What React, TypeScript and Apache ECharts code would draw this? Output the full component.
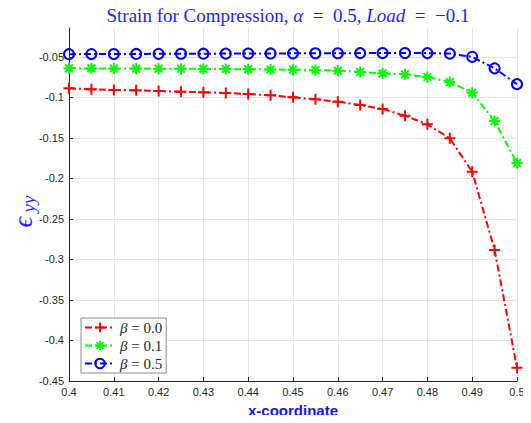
import React, { useEffect, useRef } from "react";
import * as echarts from "echarts";

const xValues = [0.4, 0.405, 0.41, 0.415, 0.42, 0.425, 0.43, 0.435, 0.44, 0.445, 0.45, 0.455, 0.46, 0.465, 0.47, 0.475, 0.48, 0.485, 0.49, 0.495, 0.5];
const seriesNames = ["β = 0.0", "β = 0.1", "β = 0.5"];
const beta00 = [-0.0887, -0.0899, -0.0907, -0.0911, -0.092, -0.0928, -0.0936, -0.0944, -0.0957, -0.0973, -0.0998, -0.1023, -0.1052, -0.1093, -0.1142, -0.1225, -0.1331, -0.1504, -0.1916, -0.2883, -0.4336];
const beta01 = [-0.064, -0.0641, -0.0642, -0.0643, -0.0644, -0.0645, -0.0647, -0.0649, -0.0651, -0.0654, -0.0657, -0.0661, -0.0669, -0.0685, -0.0702, -0.0714, -0.0747, -0.0809, -0.0941, -0.129, -0.181];
const beta05 = [-0.0465, -0.0464, -0.0463, -0.0462, -0.0461, -0.046, -0.0459, -0.0458, -0.0457, -0.0456, -0.0455, -0.0454, -0.0453, -0.0452, -0.0451, -0.045, -0.0452, -0.0458, -0.0498, -0.064, -0.0835];

const plusPath = "path://M0,5L10,5M5,0L5,10";
const starPath = "path://M0,5L10,5M5,0L5,10M1.5,1.5L8.5,8.5M1.5,8.5L8.5,1.5";
const dashDot = [7, 3, 2, 3];
const SERIF = "'Liberation Serif', 'DejaVu Serif', serif";
const SANS = "'Liberation Sans', Arial, Helvetica, sans-serif";
const EQ = "\u2002=\u2002";

export default function App() {
  const ref = useRef<HTMLDivElement>(null);
  useEffect(() => {
    if (!ref.current) return;
    const chart = echarts.init(ref.current, undefined, { renderer: "svg" });
    const toPairs = (arr: number[]) => xValues.map((x, i) => [x, arr[i]]);
    const mk = (name: string, data: number[], color: string, symbol: string, size: number) => ({
      name,
      type: "line",
      data: toPairs(data),
      symbol,
      symbolSize: size,
      showAllSymbol: true,
      lineStyle: { color, width: 2, type: dashDot },
      itemStyle: {
        color: "rgba(0,0,0,0)",
        borderColor: color,
        borderWidth: 2,
      },
      emphasis: { disabled: true },
      z: 3,
    });
    chart.setOption({
      animation: false,
      grid: { left: 69, right: 14, top: 28, bottom: 42, containLabel: false },
      xAxis: {
        type: "value",
        min: 0.4,
        max: 0.5,
        interval: 0.01,
        name: "x-coordinate",
        nameLocation: "middle",
        nameGap: 22,
        nameTextStyle: { color: "#1414ff", fontSize: 15, fontWeight: "bold", fontFamily: SANS },
        axisLine: { show: true, onZero: false, lineStyle: { color: "#262626", width: 1 } },
        axisTick: { show: true, inside: true, length: 4, lineStyle: { color: "#262626" } },
        axisLabel: { color: "#262626", fontSize: 11, fontFamily: SANS, margin: 5 },
        splitLine: { show: true, lineStyle: { color: "#e5e5e5", width: 1 } },
      },
      yAxis: {
        type: "value",
        min: -0.45,
        max: -0.0142,
        interval: 0.05,
        axisLine: { show: true, onZero: false, lineStyle: { color: "#262626", width: 1 } },
        axisTick: { show: true, inside: true, length: 4, lineStyle: { color: "#262626" } },
        axisLabel: { color: "#262626", fontSize: 11, fontFamily: SANS, margin: 5, showMaxLabel: false },
        splitLine: { show: true, showMaxLine: false, lineStyle: { color: "#e5e5e5", width: 1 } },
      },
      legend: {
        orient: "vertical",
        left: 81,
        top: 318,
        data: seriesNames,
        itemWidth: 30,
        itemHeight: 12,
        itemGap: 3,
        padding: [2, 4, 2, 3],
        backgroundColor: "#ffffff",
        borderColor: "#8a8a8a",
        borderWidth: 1,
        borderRadius: 0,
        formatter: (name: string) => "{b|β} = " + name.split("= ")[1],
        textStyle: {
          fontFamily: SERIF,
          fontSize: 15,
          color: "#262626",
          rich: {
            b: { fontFamily: SERIF, fontStyle: "italic", fontSize: 15, color: "#262626" },
          },
        },
      },
      graphic: [
        {
          type: "text",
          x: 288,
          y: 15,
          style: {
            text: "Strain for Compression, {i|α}" + EQ + "0.5, {i|Load}" + EQ + "−0.1",
            fill: "#1f1fff",
            font: `19px ${SERIF}`,
            align: "center",
            verticalAlign: "middle",
            rich: {
              i: { fontStyle: "italic", fontSize: 19, fontFamily: SERIF, fill: "#1f1fff" },
            },
          },
        },
        {
          type: "group",
          x: 23,
          y: 209,
          rotation: Math.PI / 2,
          children: [
            {
              type: "text",
              x: -13,
              y: 0,
              style: {
                text: "ϵ",
                fill: "#1f1fff",
                font: `italic 27px ${SERIF}`,
                align: "center",
                verticalAlign: "middle",
              },
            },
            {
              type: "text",
              x: 5,
              y: 5,
              style: {
                text: "yy",
                fill: "#1f1fff",
                font: `italic 19px ${SERIF}`,
                align: "center",
                verticalAlign: "middle",
              },
            },
          ],
        },
      ],
      series: [
        mk(seriesNames[0], beta00, "#ff0000", plusPath, 11),
        mk(seriesNames[1], beta01, "#00ff00", starPath, 11),
        mk(seriesNames[2], beta05, "#0000ff", "circle", 10),
      ],
    });
    return () => chart.dispose();
  }, []);
  return <div ref={ref} style={{ width: 531, height: 423, margin: -8 }} />;
}
